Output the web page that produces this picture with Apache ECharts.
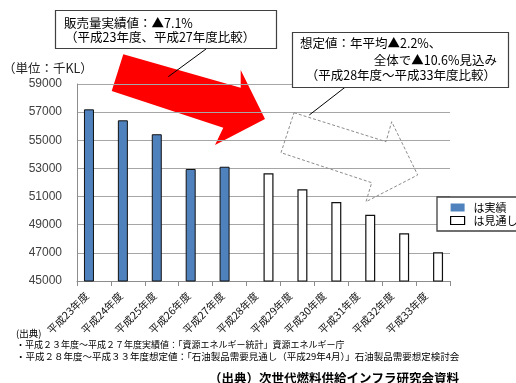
<!DOCTYPE html>
<html>
<head>
<meta charset="utf-8">
<script src="https://cdn.jsdelivr.net/npm/echarts@6/dist/echarts.min.js"></script>
<style>
html,body{margin:0;padding:0;background:#fff;}
#chart{width:516px;height:383px;}
</style>
</head>
<body>
<div id="chart"></div>
<script>
const categories = ['平成23年度','平成24年度','平成25年度','平成26年度','平成27年度','平成28年度','平成29年度','平成30年度','平成31年度','平成32年度','平成33年度'];
const actualValues = [57200, 56420, 55430, 52960, 53120, null, null, null, null, null, null];
const forecastValues = [null, null, null, null, null, 52650, 51520, 50610, 49710, 48390, 47040];
const yMin = 45000, yMax = 59000, yInterval = 2000;
const seriesNames = ['は実績', 'は見通し'];

const JP = '"Noto Sans CJK JP", "Noto Sans", sans-serif';
const chart = echarts.init(document.getElementById('chart'));

function txt(text, x, y, size, opts) {
  opts = opts || {};
  return {
    type: 'text', x: x, y: y, z: opts.z || 10,
    style: {
      text: text, fill: opts.fill || '#000',
      fontSize: size, fontFamily: JP, fontWeight: opts.bold ? 'bold' : 'normal',
      textAlign: opts.align || 'left', textVerticalAlign: 'middle'
    }
  };
}

chart.setOption({
  animation: false,
  backgroundColor: '#fff',
  grid: { left: 77, top: 84, right: 66, bottom: 102 },
  xAxis: {
    type: 'category', data: categories, boundaryGap: true,
    axisLine: { lineStyle: { color: '#8c8c8c', width: 1 } },
    axisTick: { show: true, length: 5, lineStyle: { color: '#8c8c8c' } },
    axisLabel: { rotate: 45, fontSize: 10.5, fontFamily: JP, color: '#111', margin: 6, padding: [0, 10, 0, 0] }
  },
  yAxis: {
    type: 'value', min: yMin, max: yMax, interval: yInterval,
    axisLine: { show: true, lineStyle: { color: '#8c8c8c', width: 1 } },
    axisTick: { show: false },
    splitLine: { lineStyle: { color: '#a6a6a6', width: 1 } },
    axisLabel: { fontSize: 12, fontFamily: '"Liberation Sans", Arial, sans-serif', color: '#404040', margin: 15,
      formatter: function (v) { return String(v); } }
  },
  legend: {
    orient: 'vertical', left: 437, top: 197,
    padding: [5, 13, 5, 13], itemGap: 2,
    itemWidth: 14, itemHeight: 8, icon: 'rect',
    borderColor: '#404040', borderWidth: 1.3, backgroundColor: '#fff',
    textStyle: { fontSize: 11, fontFamily: JP, color: '#000', padding: [0, 0, 0, 4] },
    data: [
      { name: seriesNames[0], itemStyle: { borderWidth: 0 } },
      { name: seriesNames[1], itemStyle: { color: '#fff', borderColor: '#000', borderWidth: 1.2 } }
    ],
    z: 6
  },
  series: [
    { name: seriesNames[0], type: 'bar', data: actualValues, barWidth: 10, barGap: '0%',
      itemStyle: { color: '#4f81bd', borderColor: '#111', borderWidth: 1 } },
    { name: seriesNames[1], type: 'bar', data: forecastValues, barWidth: 10, barGap: '0%',
      itemStyle: { color: '#fff', borderColor: '#111', borderWidth: 1.2 } }
  ],
  graphic: [
    { type: 'polygon', z: -1, shape: { points: [[123.3,54.3],[240.7,87.7],[240.7,70],[265,119],[215,145],[223.3,127.7],[111.7,91]] },
      style: { fill: '#ff0000', stroke: null } },
    { type: 'polygon', z: 5, shape: { points: [[294,112.7],[386,141.7],[391.7,121.7],[417.7,175],[366,201.7],[371.7,182.7],[281,152.7]] },
      style: { fill: null, stroke: '#8c8c8c', lineWidth: 1, lineDash: [3, 2] } },
    { type: 'line', z: 8, shape: { x1: 206, y1: 49, x2: 168.3, y2: 76.7 }, style: { stroke: '#000', lineWidth: 1 } },
    { type: 'line', z: 8, shape: { x1: 345, y1: 87.3, x2: 309.3, y2: 115 }, style: { stroke: '#000', lineWidth: 1 } },
    { type: 'rect', z: 9, shape: { x: 55.5, y: 10.5, width: 221, height: 38 }, style: { fill: '#fff', stroke: '#404040', lineWidth: 1.2 } },
    txt('販売量実績値：▲7.1%', 64, 23, 12.5),
    txt('（平成23年度、平成27年度比較）', 65, 37.5, 12.5),
    { type: 'rect', z: 9, shape: { x: 292.5, y: 32.5, width: 216, height: 55 }, style: { fill: '#fff', stroke: '#404040', lineWidth: 1.2 } },
    txt('想定値：年平均▲2.2%、', 300, 43.5, 12.5),
    txt('全体で▲10.6%見込み', 497, 60, 12.5, { align: 'right' }),
    txt('（平成28年度～平成33年度比較）', 496, 75, 12.5, { align: 'right' }),
    txt('（単位：千KL）', 3, 68.5, 12.5, { fill: '#222' }),
    txt('(出典)', 16, 333, 9.5),
    txt('・平成２３年度～平成２７年度実績値：「資源エネルギー統計」資源エネルギー庁', 16, 345, 9),
    txt('・平成２８年度～平成３３年度想定値：「石油製品需要見通し（平成29年4月）」石油製品需要想定検討会', 16, 356.5, 9.5),
    txt('（出典）次世代燃料供給インフラ研究会資料', 209, 378, 12.5, { bold: true })
  ]
});
</script>
</body>
</html>
